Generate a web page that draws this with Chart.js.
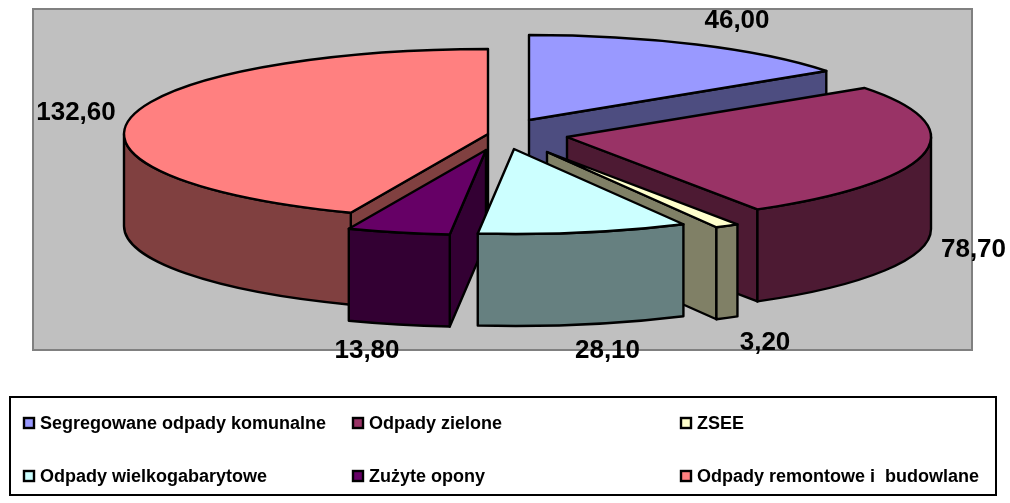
<!DOCTYPE html>
<html>
<head>
<meta charset="utf-8">
<style>html,body{margin:0;padding:0;background:#fff}canvas{display:block}</style>
<script src="https://cdn.jsdelivr.net/npm/chart.js@4"></script>
</head>
<body>
<canvas id="c" width="1010" height="503"></canvas>
<script>
const categories = ['Segregowane odpady komunalne','Odpady zielone','ZSEE','Odpady wielkogabarytowe','Zużyte opony','Odpady remontowe i  budowlane'];
const values = [46.00, 78.70, 3.20, 28.10, 13.80, 132.60];
const topColors = ['#9999FF','#993366','#FFFFCC','#CCFFFF','#660066','#FF8080'];
const wallColors = ['#4D4D80','#4D1A33','#808066','#668080','#330033','#804040'];

// Layout of the exploded 3D look (not data)
const RADIUS = 364, TILT = 0.2335, DEPTH = 92;
const sliceCentres = [[529,120],[567,137],[547,152],[514,149],[486,150],[488,134]];
const paintOrder = [0,1,2,5,4,3];
const labelPos = [[737,20],[973.5,249],[765,342],[607.5,350],[367,350],[76,112]];
const legendSlots = [[23,423],[352,423],[680,423],[23,476],[352,476],[680,476]];

const pie3d = {
  id: 'pie3d',
  beforeDraw(chart) {
    const c = chart.ctx;
    c.save();
    c.fillStyle = '#C0C0C0';
    c.strokeStyle = '#808080';
    c.lineWidth = 2;
    c.fillRect(33, 9, 939, 341);
    c.strokeRect(33, 9, 939, 341);
    c.restore();
  },
  beforeDatasetsDraw(chart) {
    const c = chart.ctx, meta = chart.getDatasetMeta(0);
    c.save();
    c.lineWidth = 2.4;
    c.strokeStyle = '#000';
    c.lineJoin = 'round';
    paintOrder.forEach(i => {
      const arc = meta.data[i], [cx, cy] = sliceCentres[i];
      const s = arc.startAngle, e = arc.endAngle, R = arc.outerRadius, ry = R * TILT;
      const face = t => {
        const x = cx + R * Math.cos(t), y = cy + ry * Math.sin(t);
        c.beginPath();
        c.moveTo(cx, cy); c.lineTo(x, y); c.lineTo(x, y + DEPTH); c.lineTo(cx, cy + DEPTH);
        c.closePath();
        c.fillStyle = wallColors[i];
        c.fill(); c.stroke();
      };
      if (Math.cos(s) < 0) face(s);
      if (Math.cos(e) > 0) face(e);
      const t0 = Math.max(s, 0), t1 = Math.min(e, Math.PI);
      if (t1 > t0) {
        c.beginPath();
        c.ellipse(cx, cy, R, ry, 0, t0, t1);
        c.ellipse(cx, cy + DEPTH, R, ry, 0, t1, t0, true);
        c.closePath();
        c.fillStyle = wallColors[i];
        c.fill(); c.stroke();
      }
      // top face: the library's own arc element, squashed into an ellipse
      c.save();
      c.translate(cx, cy);
      c.scale(1, TILT);
      c.translate(-arc.x, -arc.y);
      arc.draw(c);
      c.restore();
      c.beginPath();
      c.moveTo(cx, cy);
      c.ellipse(cx, cy, R, ry, 0, s, e);
      c.closePath();
      c.stroke();
    });
    c.restore();
    return false;
  },
  afterDraw(chart) {
    const c = chart.ctx, ds = chart.data.datasets[0];
    c.save();
    c.fillStyle = '#000';
    c.textAlign = 'center';
    c.textBaseline = 'middle';
    c.font = 'bold 26px "Liberation Sans", Arial, sans-serif';
    ds.data.forEach((v, i) => {
      c.fillText(v.toFixed(2).replace('.', ','), labelPos[i][0], labelPos[i][1] + 1);
    });
    // legend box
    c.fillStyle = '#fff';
    c.strokeStyle = '#000';
    c.lineWidth = 2;
    c.fillRect(10, 397, 986, 98);
    c.strokeRect(10, 397, 986, 98);
    c.font = 'bold 18px "Liberation Sans", Arial, sans-serif';
    c.textAlign = 'left';
    c.lineWidth = 2.4;
    chart.data.labels.forEach((lab, i) => {
      const [x, y] = legendSlots[i];
      c.fillStyle = ds.backgroundColor[i];
      c.fillRect(x + 1, y - 5, 10, 10);
      c.strokeRect(x + 1, y - 5, 10, 10);
      c.fillStyle = '#000';
      c.fillText(lab, x + 17, y + 1);
    });
    c.restore();
  }
};

new Chart(document.getElementById('c'), {
  type: 'pie',
  data: {
    labels: categories,
    datasets: [{
      data: values,
      backgroundColor: topColors,
      borderWidth: 0,
      radius: RADIUS
    }]
  },
  options: {
    responsive: false,
    animation: false,
    events: [],
    layout: { padding: 0 },
    plugins: { legend: { display: false }, tooltip: { enabled: false } }
  },
  plugins: [pie3d]
});
</script>
</body>
</html>
